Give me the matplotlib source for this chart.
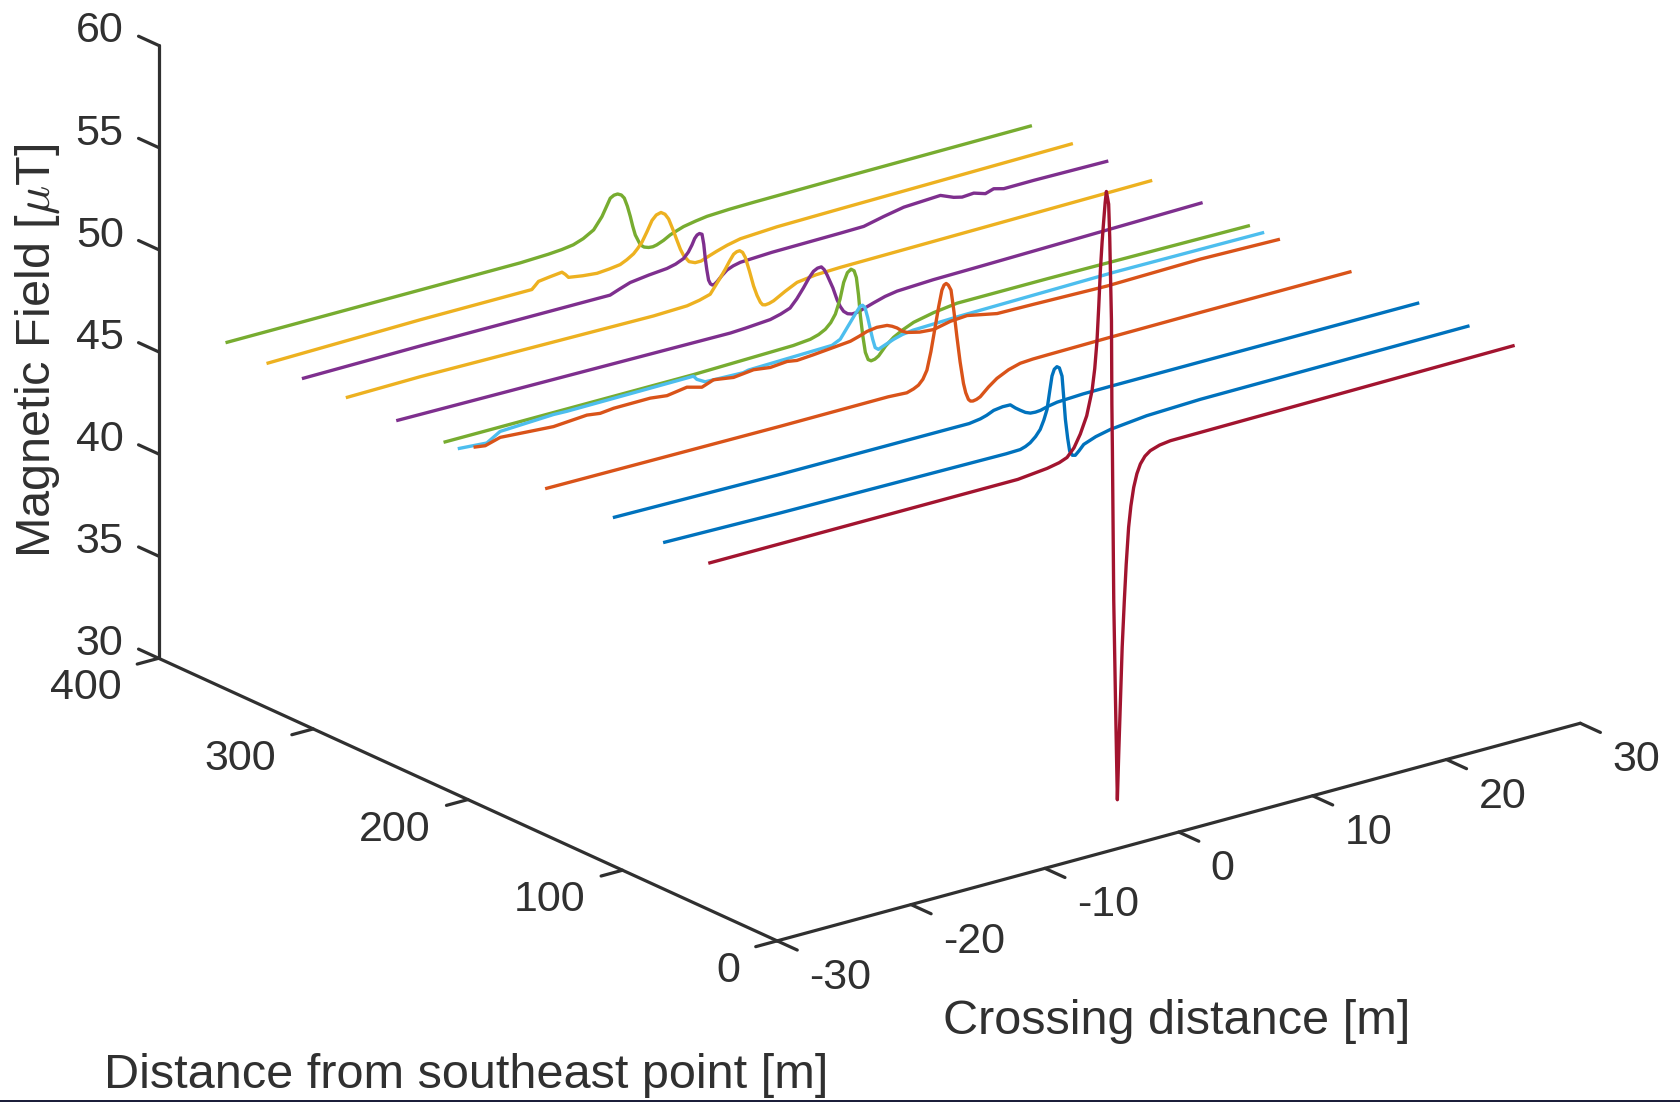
import matplotlib
matplotlib.use("Agg")
import matplotlib.pyplot as plt
from mpl_toolkits.mplot3d import proj3d

plt.rcParams['font.family'] = ['Liberation Sans', 'DejaVu Sans']
plt.rcParams['mathtext.fontset'] = 'cm'

# far line first, the order they are stacked in the picture
green1_d = 355.7
green1_x = [-30, -15.6, -8.1, -6, -5, -4.14, -3.4, -2.62, -2.0, -1.38, -1.1, -0.83, -0.55, -0.33, -0.1, 0.12, 0.3, 0.49, 0.87, 1.15, 1.49, 1.8, 2.1, 2.6, 3.1, 3.6, 4.1, 5, 5.85, 7.5, 9.33, 15.8, 30]
green1_b = [47, 47, 47, 47.05, 47.1, 47.18, 47.35, 47.64, 48.18, 48.97, 49.07, 49.08, 48.98, 48.79, 48.35, 47.81, 47.3, 46.84, 46.29, 46.13, 46.05, 46.03, 46.07, 46.2, 46.38, 46.5, 46.61, 46.72, 46.8, 46.85, 46.87, 46.9, 46.93]

yellow1_d = 329.2
yellow1_x = [-30, -18.64, -10.3, -10.05, -9.8, -9, -8.05, -7.8, -7.56, -6.5, -5.43, -4.5, -3.7, -3.2, -2.7, -2.4, -2.07, -1.7, -1.32, -1, -0.65, -0.35, -0.08, 0.25, 0.55, 0.8, 1.04, 1.45, 1.9, 2.35, 2.8, 3.5, 4.3, 5.28, 8, 12.75, 30]
yellow1_b = [46.9, 47, 47, 47.15, 47.31, 47.38, 47.45, 47.3, 47.11, 47, 46.93, 46.98, 47.05, 47.2, 47.4, 47.6, 47.86, 48.3, 48.79, 49, 49.06, 48.92, 48.64, 48.05, 47.47, 47, 46.65, 46.28, 46.15, 46.15, 46.26, 46.42, 46.58, 46.72, 46.82, 46.86, 46.97]

purple1_d = 306.3
purple1_x = [-30, -21.29, -7.1, -6.4, -5.6, -4.2, -2.85, -2.2, -1.6, -1.25, -0.98, -0.78, -0.6, -0.42, -0.23, -0.1, 0.01, 0.13, 0.26, 0.4, 0.54, 0.7, 0.89, 1.25, 1.64, 2.1, 2.63, 5, 10.1, 11.85, 13.34, 14.84, 17.58, 18.57, 19.2, 20.07, 20.94, 21.56, 22.31, 24.55, 30]
purple1_b = [46.95, 46.98, 46.95, 47.12, 47.3, 47.42, 47.5, 47.6, 47.77, 48.02, 48.32, 48.6, 48.74, 48.78, 48.71, 48.2, 47.49, 46.9, 46.38, 46.17, 46.09, 46.1, 46.19, 46.42, 46.63, 46.75, 46.83, 46.9, 46.93, 46.95, 47.17, 47.36, 47.45, 47.18, 47.08, 47.12, 46.94, 47.07, 46.94, 46.95, 46.91]

yellow2_d = 277.9
yellow2_x = [-30, -24.57, -7.13, -4.63, -3.7, -2.9, -2.52, -2.15, -1.77, -1.45, -1.15, -0.92, -0.7, -0.48, -0.28, 0.03, 0.34, 0.6, 0.85, 1.02, 1.22, 1.5, 1.84, 2.7, 3.59, 5, 6.82, 30]
yellow2_b = [47, 47.04, 46.92, 46.97, 47.08, 47.23, 47.57, 47.9, 48.26, 48.6, 48.88, 48.96, 48.97, 48.85, 48.57, 47.85, 47.06, 46.55, 46.17, 46.02, 45.98, 46, 46.07, 46.38, 46.66, 46.78, 46.82, 46.94]

purple2_d = 245.3
purple2_x = [-30, -5.16, -4, -2.18, -1.4, -0.7, -0.2, 0.3, 0.7, 1.05, 1.35, 1.64, 1.85, 2.06, 2.5, 2.81, 3.05, 3.3, 3.6, 3.93, 4.3, 4.68, 5.55, 6.4, 7.3, 10, 13.5, 30]
purple2_b = [47, 46.86, 46.9, 46.99, 47.12, 47.29, 47.65, 48.1, 48.5, 48.78, 48.88, 48.89, 48.72, 48.43, 47.71, 47.08, 46.7, 46.42, 46.25, 46.18, 46.19, 46.26, 46.44, 46.6, 46.7, 46.78, 46.81, 46.98]

green2_d = 214.7
green2_x = [-30, -11.44, -4, -2.72, -2.1, -1.6, -1.2, -0.85, -0.5, -0.23, 0.05, 0.32, 0.55, 0.72, 0.88, 1.02, 1.2, 1.39, 1.6, 1.82, 2.1, 2.38, 2.9, 3.5, 4.2, 5, 6.5, 8.24, 15, 30]
green2_b = [47, 47, 47.1, 47.18, 47.3, 47.47, 47.72, 48.08, 48.75, 49.52, 49.95, 50.07, 49.95, 49.59, 48.7, 47.66, 46.65, 45.81, 45.42, 45.32, 45.35, 45.46, 45.85, 46.17, 46.42, 46.64, 46.85, 47, 47, 46.92]

cyan_d = 205.5
cyan_x = [-30, -27.95, -26.96, -22.97, -21.97, -12.51, -12.26, -11.64, -8.8, -8.4, -2.17, -1.55, -0.8, -0.4, -0.05, 0.12, 0.3, 0.5, 0.7, 0.88, 1.06, 1.3, 1.8, 2.44, 3.1, 3.9, 7.4, 18.9, 30]
cyan_b = [47, 46.9, 47.29, 47.41, 47.39, 47.43, 47.23, 47, 46.94, 47, 47.1, 47.29, 47.98, 48.35, 48.65, 48.66, 48.51, 48.0, 47.38, 46.85, 46.42, 46.29, 46.42, 46.58, 46.7, 46.77, 46.84, 46.94, 46.9]

orange1_d = 195.3
orange1_x = [-30, -29.25, -28.13, -24.15, -21.65, -20.66, -19.66, -16.92, -15.67, -14.18, -13.06, -12.19, -10.7, -9.2, -7.95, -6.7, -5.96, -4.72, -1.97, -1.3, -0.73, 0, 0.77, 1.15, 1.52, 1.9, 2.26, 3.2, 4.25, 5.5, 6.75, 8.99, 11.73, 17.2, 24.2, 30]
orange1_b = [47.42, 47.35, 47.56, 47.38, 47.5, 47.41, 47.48, 47.49, 47.39, 47.54, 47.34, 47.55, 47.4, 47.51, 47.4, 47.47, 47.39, 47.45, 47.62, 47.75, 47.88, 47.95, 47.91, 47.8, 47.65, 47.43, 47.3, 47.15, 47.09, 47.27, 47.33, 47.03, 47, 46.92, 47, 46.92]

orange2_d = 149
orange2_x = [-30, -12.56, -4.5, -3.1, -2.6, -2.23, -1.9, -1.6, -1.3, -0.98, -0.72, -0.48, -0.32, -0.16, 0, 0.2, 0.42, 0.64, 0.88, 1.13, 1.3, 1.5, 1.65, 1.84, 2.1, 2.38, 3, 3.63, 4.5, 5.37, 6.3, 7.37, 12.1, 18.8, 30]
orange2_b = [47, 46.94, 46.95, 46.9, 47, 47.12, 47.35, 47.74, 48.6, 49.76, 50.7, 51.46, 51.68, 51.73, 51.62, 51.34, 50.25, 48.98, 47.7, 46.61, 46.12, 45.76, 45.65, 45.62, 45.65, 45.73, 46.1, 46.41, 46.68, 46.84, 46.88, 46.89, 46.92, 46.94, 46.94]

blue1_d = 105.2
blue1_x = [-30, -17.62, -3.5, -2.67, -2.2, -1.67, -1, -0.43, -0.05, 0.32, 0.7, 1.07, 1.45, 1.82, 2.4, 3.07, 5, 7.3, 13.8, 30]
blue1_b = [47.1, 47, 46.98, 47.06, 47.15, 47.3, 47.36, 47.35, 47.13, 46.95, 46.78, 46.68, 46.66, 46.68, 46.78, 46.86, 46.92, 46.93, 46.93, 46.92]

blue2_d = 72.7
blue2_x = [-30, -21.38, -4.5, -3.44, -3.05, -2.7, -2.3, -1.95, -1.68, -1.44, -1.25, -1.07, -0.9, -0.7, -0.52, -0.32, -0.2, -0.07, 0.1, 0.25, 0.45, 0.67, 0.95, 1.3, 2.2, 3.3, 6, 10, 30]
blue2_b = [47, 46.9, 46.8, 46.82, 46.9, 47.02, 47.25, 47.54, 47.95, 48.43, 49.25, 50, 50.3, 50.39, 50.3, 49.86, 48.85, 47.7, 46.75, 46.09, 45.85, 45.81, 45.98, 46.23, 46.45, 46.61, 46.8, 46.89, 46.92]

red_d = 43.5
red_x = [-30, -18.52, -9.8, -7, -4.81, -3.9, -3.32, -2.8, -2.33, -1.85, -1.45, -1.25, -1.08, -0.95, -0.83, -0.7, -0.58, -0.47, -0.38, -0.21, -0.13, -0.08, 0, 0.03, 0.07, 0.17, 0.3, 0.37, 0.44, 0.55, 0.67, 0.8, 0.96, 1.1, 1.28, 1.45, 1.66, 1.9, 2.16, 2.5, 2.9, 3.6, 4.4, 6.64, 30]
red_b = [47, 47, 47, 47, 47.15, 47.27, 47.42, 47.8, 48.39, 49.2, 50.36, 51.4, 52.74, 54.4, 56.12, 57.5, 58.52, 59.4, 59.92, 59.27, 57.63, 55.99, 53.52, 49.44, 47.15, 39.8, 34.9, 32.4, 30, 32.4, 34.8, 37.4, 39.65, 41.4, 43.18, 44.2, 45.07, 45.7, 46.13, 46.45, 46.65, 46.8, 46.87, 46.88, 46.97]

curves = [
    (green1_d, green1_x, green1_b, '#77AC30'),
    (yellow1_d, yellow1_x, yellow1_b, '#EDB120'),
    (purple1_d, purple1_x, purple1_b, '#7E2F8E'),
    (yellow2_d, yellow2_x, yellow2_b, '#EDB120'),
    (purple2_d, purple2_x, purple2_b, '#7E2F8E'),
    (green2_d, green2_x, green2_b, '#77AC30'),
    (cyan_d, cyan_x, cyan_b, '#4DBEEE'),
    (orange1_d, orange1_x, orange1_b, '#D95319'),
    (orange2_d, orange2_x, orange2_b, '#D95319'),
    (blue1_d, blue1_x, blue1_b, '#0072BD'),
    (blue2_d, blue2_x, blue2_b, '#0072BD'),
    (red_d, red_x, red_b, '#A2142F'),
]

x_ticks = [-30, -20, -10, 0, 10, 20, 30]
y_ticks = [0, 100, 200, 300, 400]
z_ticks = [30, 35, 40, 45, 50, 55, 60]

W, H = 1681, 1102
dark = '#303030'
fig = plt.figure(figsize=(W / 100, H / 100), dpi=100)
side = 1530
ax = fig.add_axes([83.8 / W, -68 / H, side / W, side / H], projection='3d', proj_type='ortho')
ax.set_box_aspect((946, 946, 611))
ax.view_init(elev=20.6, azim=-127.6)
ax.set_xlim(-30, 30)
ax.set_ylim(0, 400)
ax.set_zlim(30, 60)
ax.set_axis_off()

for d, xs, bs, col in curves:
    ax.plot(xs, [d] * len(xs), bs, color=col, lw=2.4, clip_on=False, solid_joinstyle='round')

# axis frame, matlab style
axis_style = dict(color=dark, lw=2.3, clip_on=False, solid_capstyle='round')
ax.plot([-30, 30], [0, 0], [30, 30], **axis_style)
ax.plot([-30, -30], [0, 400], [30, 30], **axis_style)
ax.plot([-30, -30], [400, 400], [30, 60], **axis_style)
for t in x_ticks:
    ax.plot([t, t], [0, -13], [30, 30], **axis_style)
for t in y_ticks:
    ax.plot([-30, -31.6], [t, t], [30, 30], **axis_style)
for t in z_ticks:
    ax.plot([-30, -30], [400, 413], [t, t], **axis_style)


def tick_label(text, x, y, z, dx, dy, ha):
    px, py, _ = proj3d.proj_transform(x, y, z, ax.get_proj())
    ax.annotate(text, (px, py), xytext=(dx, dy), textcoords='offset pixels',
                ha=ha, va='center', fontsize=31, color=dark, annotation_clip=False)


for t in x_ticks:
    tick_label(str(t), t, 0, 30, 32, -37, 'left')
for t in y_ticks:
    tick_label(str(t), -30, t, 30, -37, -30, 'right')
for t in z_ticks:
    tick_label(str(t), -30, 400, t, -35, 14, 'right')

fig.text(38 / W, 1 - 351 / H, r'Magnetic Field [$\mu$T]', rotation=90, ha='center', va='center', fontsize=35, color=dark)
fig.text(1177 / W, 1 - 1021 / H, 'Crossing distance [m]', ha='center', va='center', fontsize=35, color=dark)
fig.text(466 / W, 1 - 1075 / H, 'Distance from southeast point [m]', ha='center', va='center', fontsize=35, color=dark)

# dark strip along the bottom edge of the screenshot
fig.add_artist(plt.Rectangle((0, 0), 1, 2 / H, transform=fig.transFigure, color='#1c1f3a', lw=0))

fig.savefig('out.png', dpi=100)
